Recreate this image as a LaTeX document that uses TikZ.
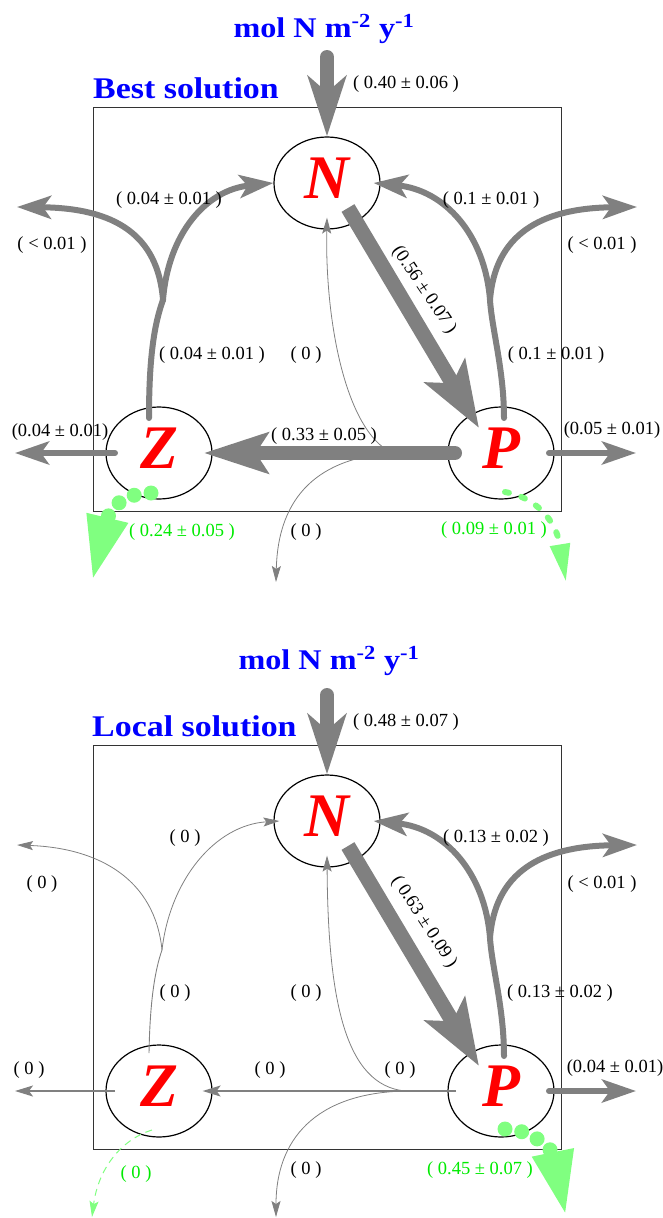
\documentclass[tikz,border=0pt]{standalone}
\usepackage{fontspec}
\setmainfont{Liberation Serif}
\usetikzlibrary{arrows.meta,shapes.geometric}
\definecolor{fg}{RGB}{128,128,128}
\definecolor{lgreen}{RGB}{128,255,128}
\definecolor{labgreen}{RGB}{0,235,0}
\newcommand{\widetxt}[1]{\scalebox{1.13}[1]{#1}}
\begin{document}
\begin{tikzpicture}[x=1pt,y=-1pt,
  boxline/.style={draw=black!80, line width=0.9pt},
  state/.style={ellipse, draw=black, line width=1.2pt, minimum width=106pt, minimum height=92pt, inner sep=0pt, text=red, text depth=10pt, font=\fontsize{62}{62}\selectfont\bfseries\itshape},
  ttl/.style={text=blue, inner sep=0pt, font=\bfseries\fontsize{30}{34}\selectfont},
  unit/.style={text=blue, inner sep=0pt, font=\bfseries\fontsize{28.5}{32}\selectfont},
  lab/.style={inner sep=0pt, font=\fontsize{18.5}{22}\selectfont},
  glab/.style={lab, text=labgreen},
  flow/.style={draw=fg, line width=6pt, line cap=round, -{Stealth[width=23pt,length=34pt,inset=8pt]}},
  flowline/.style={draw=fg, line width=6pt, line cap=round},
  thinflow/.style={draw=fg, line width=0.8pt, -{Stealth[width=9pt,length=16pt,inset=3pt]}},
  midflow/.style={draw=fg, line width=1.6pt, -{Stealth[width=11pt,length=18pt,inset=4pt]}},
  inflow/.style={draw=fg, line width=14pt, line cap=round, -{Stealth[width=38pt,length=60pt,inset=16pt]}},
  bigNP/.style={draw=fg, line width=15pt, -{Stealth[width=46pt,length=66pt,inset=14pt]}},
  bigPZ/.style={draw=fg, line width=14pt, line cap=round, -{Stealth[width=40pt,length=64pt,inset=12pt]}},
  gdots/.style={draw=lgreen, line width=15pt, line cap=round, dash pattern=on 0pt off 17pt, -{Triangle[width=38pt,length=66pt]}},
  gdash/.style={draw=lgreen, line width=6pt, line cap=round, dash pattern=on 4pt off 13pt, -{Triangle[width=19pt,length=38pt]}},
  gthin/.style={draw=lgreen, line width=1pt, dash pattern=on 7pt off 5pt, -{Stealth[width=9pt,length=16pt,inset=3pt]}}
]
\useasboundingbox (0,0) rectangle (663,1218);

%================ TOP PANEL =================
\draw[boxline] (93,107) rectangle (561,511);
\node[unit, anchor=base] (u1) at (324,37) {\widetxt{mol N m\textsuperscript{-2} y\textsuperscript{-1}}};
\node[ttl, anchor=base west] (t1) at (93,98) {\widetxt{Best solution}};
\node[state] (N1) at (327,183) {N};
\node[state] (Z1) at (159,453) {Z};
\node[state] (P1) at (501,453) {P};

\coordinate (in1) at (327,57);
\coordinate (zj1) at (163,300);
\coordinate (pj1) at (490,300);
\coordinate (zo1) at (17,207);
\coordinate (po1) at (637,207);
\coordinate (zl1) at (15,453);
\coordinate (pr1) at (636,453);
\coordinate (d1) at (392,453);
\coordinate (dn1) at (276,582);
\coordinate (gz1) at (92,582);
\coordinate (gp1) at (566,582);

% thin flows
\draw[thinflow] (d1) .. controls (345,430) and (325,320) .. ([yshift=12pt]N1.south);
\draw[thinflow] (d1) .. controls (320,458) and (278,495) .. (dn1);

% Z -> N and Z -> out
\draw[flowline] ([shift={(-10,-35)}]Z1.center) .. controls (149,370) and (152,330) .. (zj1);
\draw[flow] (zj1) .. controls (168,235) and (205,190) .. (N1.west);
\draw[flow] (zj1) .. controls (158,235) and (115,208) .. (zo1);
% P -> N and P -> out
\draw[flowline] ([shift={(3,-35)}]P1.center) .. controls (504,370) and (492,330) .. (pj1);
\draw[flow] (pj1) .. controls (485,235) and (445,190) .. ([xshift=-7pt]N1.east);
\draw[flow] (pj1) .. controls (495,235) and (540,208) .. (po1);
% horizontal outflows
\draw[flow] ([xshift=-44pt]Z1.center) -- (zl1);
\draw[flow] ([xshift=48pt]P1.center) -- (pr1);
% inflow
\draw[inflow] (in1) -- (N1.north);
% N -> P
\draw[bigNP] ([shift={(21,25)}]N1.center) -- ([shift={(-22,-25)}]P1.center);
% P -> Z
\draw[bigPZ] ([xshift=-46pt]P1.center) -- ([xshift=-9pt]Z1.east);
% green
\draw[gdots] ([shift={(-8,40)}]Z1.center) .. controls (125,493) and (110,507) .. (gz1);
\draw[gdash] ([shift={(4,39)}]P1.center) .. controls (535,497) and (556,520) .. (gp1);

% labels
\node[lab] (l1) at (406,84) {( 0.40 ± 0.06 )};
\node[lab] (l2) at (169,200) {( 0.04 ± 0.01 )};
\node[lab] (l3) at (491,200) {( 0.1 ± 0.01 )};
\node[lab] (l4) at (52,245) {( < 0.01 )};
\node[lab] (l5) at (602,245) {( < 0.01 )};
\node[lab] (l6) at (212,355) {( 0.04 ± 0.01 )};
\node[lab] (l7) at (306,355) {( 0 )};
\node[lab] (l8) at (556,355) {( 0.1 ± 0.01 )};
\node[lab] (l9) at (60,432) {(0.04 ± 0.01)};
\node[lab] (l10) at (324,436) {( 0.33 ± 0.05 )};
\node[lab] (l11) at (612,430) {(0.05 ± 0.01)};
\node[glab] (l12) at (182,532) {( 0.24 ± 0.05 )};
\node[lab] (l13) at (306,532) {( 0 )};
\node[glab] (l14) at (494,530) {( 0.09 ± 0.01 )};
\node[lab, rotate=-56] (l15) at (424,290) {(0.56 ± 0.07 )};

%================ BOTTOM PANEL =================
\draw[boxline] (93,745) rectangle (561,1149);
\node[unit, anchor=base] (u2) at (329,669) {\widetxt{mol N m\textsuperscript{-2} y\textsuperscript{-1}}};
\node[ttl, anchor=base west] (t2) at (92,736) {\widetxt{Local solution}};
\node[state] (N2) at (327,821) {N};
\node[state] (Z2) at (159,1091) {Z};
\node[state] (P2) at (501,1091) {P};

\coordinate (in2) at (327,695);
\coordinate (zj2) at (162,950);
\coordinate (pj2) at (490,938);
\coordinate (zo2) at (17,845);
\coordinate (po2) at (637,845);
\coordinate (zl2) at (15,1091);
\coordinate (pr2) at (636,1091);
\coordinate (d2) at (405,1091);
\coordinate (dn2) at (276,1217);
\coordinate (gz2) at (92,1217);
\coordinate (gp2) at (566,1217);

\draw[thinflow] (d2) .. controls (345,1085) and (328,1000) .. ([yshift=12pt]N2.south);
\draw[thinflow] (d2) .. controls (315,1093) and (276,1140) .. (dn2);

% Z -> N (zero) thin
\draw[draw=fg, line width=0.9pt] ([shift={(-10,-38)}]Z2.center) .. controls (150,1000) and (155,970) .. (zj2);
\draw[thinflow] (zj2) .. controls (170,880) and (215,825) .. ([xshift=6pt]N2.west);
\draw[thinflow] (zj2) .. controls (155,880) and (100,848) .. (zo2);
% P -> N thick
\draw[flowline] ([shift={(3,-35)}]P2.center) .. controls (504,1008) and (492,968) .. (pj2);
\draw[flow] (pj2) .. controls (485,873) and (445,828) .. ([xshift=-7pt]N2.east);
\draw[flow] (pj2) .. controls (495,873) and (540,846) .. (po2);
% horizontal
\draw[midflow] ([xshift=-44pt]Z2.center) -- (zl2);
\draw[flow] ([xshift=48pt]P2.center) -- (pr2);
\draw[midflow] ([xshift=-45pt]P2.center) -- ([xshift=-10pt]Z2.east);
% inflow
\draw[inflow] (in2) -- (N2.north);
% N -> P
\draw[bigNP] ([shift={(21,25)}]N2.center) -- ([shift={(-22,-25)}]P2.center);
% green
\draw[gthin] ([shift={(-7,39)}]Z2.center) .. controls (120,1140) and (98,1170) .. (gz2);
\draw[gdots] ([shift={(4,38)}]P2.center) .. controls (530,1129) and (552,1148) .. (gp2);

% labels
\node[lab] (m1) at (406,722) {( 0.48 ± 0.07 )};
\node[lab] (m2) at (185,838) {( 0 )};
\node[lab] (m3) at (496,838) {( 0.13 ± 0.02 )};
\node[lab] (m4) at (42,884) {( 0 )};
\node[lab] (m5) at (602,884) {( < 0.01 )};
\node[lab] (m6) at (175,993) {( 0 )};
\node[lab] (m7) at (306,993) {( 0 )};
\node[lab] (m8) at (560,993) {( 0.13 ± 0.02 )};
\node[lab] (m9) at (29,1070) {( 0 )};
\node[lab] (m10) at (270,1070) {( 0 )};
\node[lab] (m11) at (400,1070) {( 0 )};
\node[lab] (m12) at (615,1068) {(0.04 ± 0.01)};
\node[glab] (m13) at (136,1174) {( 0 )};
\node[lab] (m14) at (306,1170) {( 0 )};
\node[glab] (m15) at (480,1170) {( 0.45 ± 0.07 )};
\node[lab, rotate=-57] (m16) at (424,922) {( 0.63 ± 0.09 )};
\end{tikzpicture}
\end{document}
